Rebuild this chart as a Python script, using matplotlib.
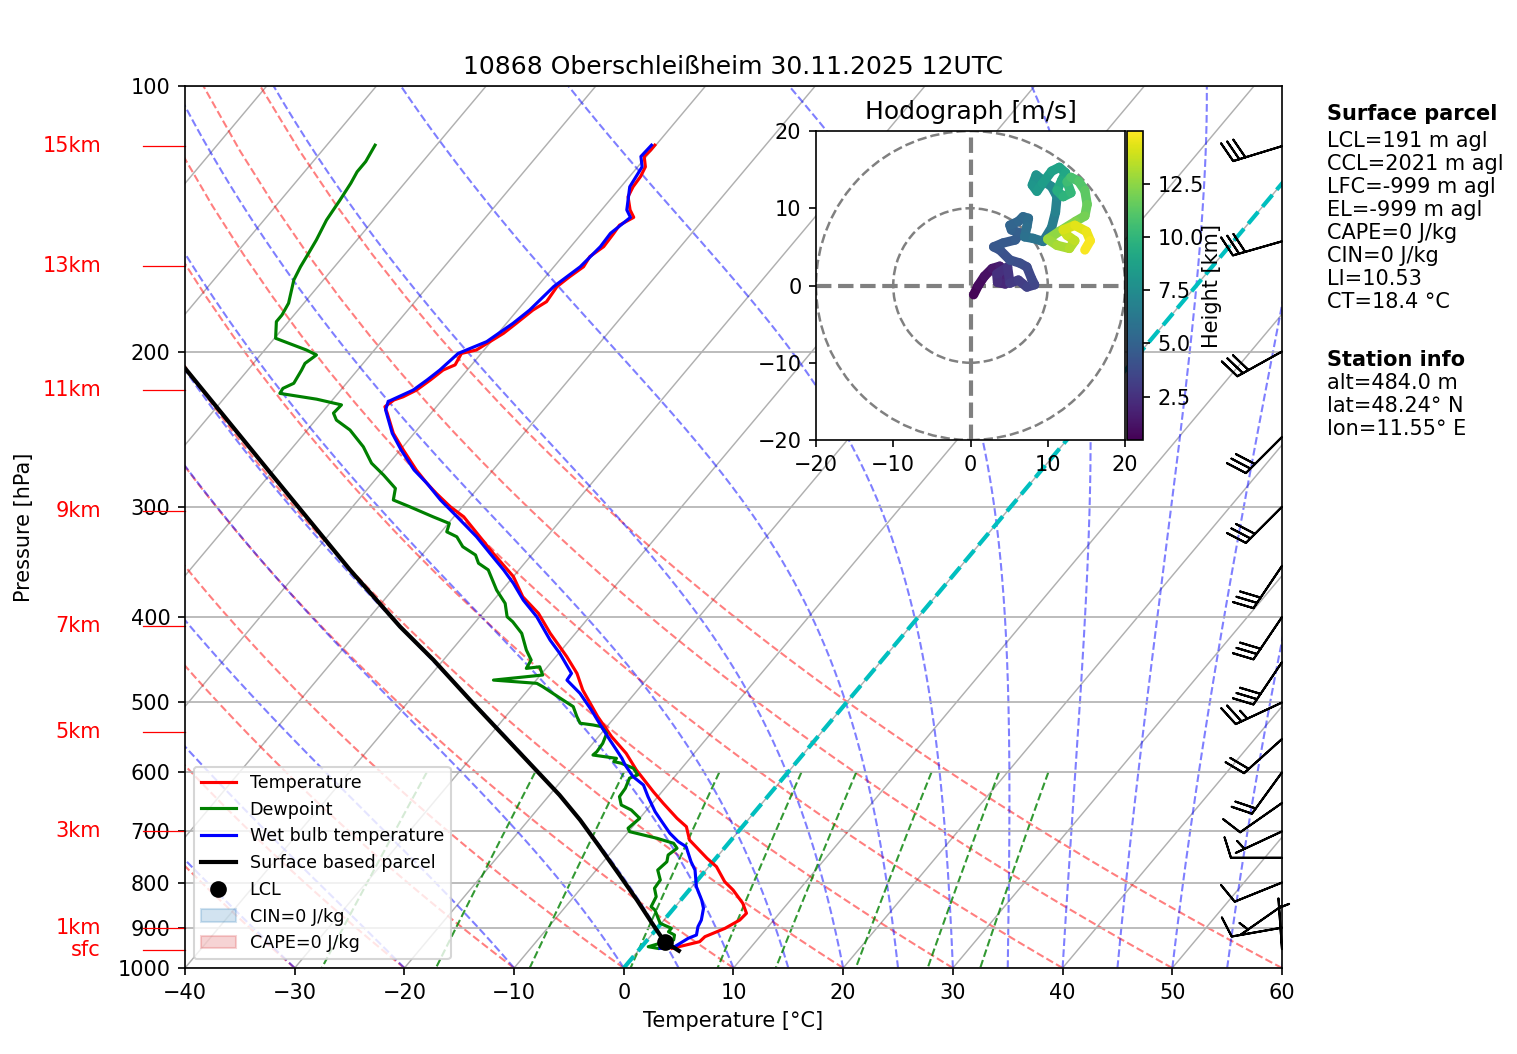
import numpy as np
import matplotlib
matplotlib.use('Agg')
import matplotlib.pyplot as plt
from matplotlib.transforms import Affine2D
from matplotlib.collections import LineCollection
from matplotlib.colors import Normalize
from matplotlib.patches import Circle, Patch
from matplotlib.lines import Line2D
from matplotlib.ticker import NullLocator

# ---- sounding (pressure hPa / temperature degC) ----
temp_p = [950, 933.6, 921.5, 901.5, 882.3, 866.9, 844.6, 815.8, 798.3, 767.6, 751.0, 715.9, 691.5, 676.5,
          650.5, 631.0, 596.3, 571.0, 546.7, 518.8, 484.0, 463.4, 443.7, 432.3, 417.4, 396.2, 379.4, 359.9,
          338.8, 324.4, 307.9, 299.9, 289.6, 282.2, 272.5, 258.7, 247.6, 234.9, 231.0, 227.0, 225.1, 221.2,
          215.4, 209.9, 207.1, 201.0, 199.2, 194.9, 190.7, 185.8, 179.5, 175.6, 168.8, 164.5, 160.3, 156.1,
          152.1, 146.9, 143.8, 140.9, 138.2, 133.5, 130.1, 126.7, 123.5, 120.2, 118.2, 116.7]
temp_T = [2.9, 4.9, 5.0, 6.2, 6.9, 7.0, 5.9, 4.0, 2.6, 0.7, -0.8, -3.8, -5.1, -6.6,
          -9.0, -10.8, -14.0, -16.2, -18.8, -21.6, -25.0, -26.8, -29.0, -30.4, -32.3, -34.9, -37.6, -40.0,
          -43.6, -46.1, -49.1, -51.1, -53.4, -55.0, -57.0, -59.7, -61.9, -64.0, -64.7, -64.4, -63.8, -63.1,
          -62.6, -62.2, -61.5, -61.8, -60.7, -60.1, -59.5, -59.1, -58.6, -58.0, -58.2, -57.8, -57.3, -57.5,
          -57.0, -57.1, -57.2, -56.5, -57.4, -58.6, -58.9, -59.0, -59.3, -60.2, -60.1, -60.1]

dew_p = [950, 946, 937.6, 929.5, 917.5, 909.7, 901.5, 889.9, 859.5, 852.1, 830.1, 812.1, 794.8, 774.3,
         757.7, 744.6, 731.6, 722.1, 712.7, 700.5, 694.3, 676.5, 662.0, 653.4, 639.3, 625.6, 609.2, 604.0,
         593.6, 585.9, 583.4, 578.5, 573.5, 568.6, 556.3, 541.9, 532.5, 530.2, 527.8, 518.8, 505.4, 494.6,
         479.8, 475.6, 471.6, 465.4, 455.5, 457.4, 447.5, 436.0, 417.4, 405.0, 399.7, 386.0, 372.8, 353.7,
         347.6, 340.2, 332.9, 324.4, 320.2, 313.3, 307.9, 299.9, 294.7, 285.9, 276.1, 267.7, 256.5, 245.5,
         239.2, 234.9, 229.9, 226.5, 223.1, 220.2, 217.3, 209.9, 206.3, 201.8, 199.2, 193.2, 185.0, 181.8,
         176.3, 165.9, 160.3, 154.7, 149.5, 141.9, 134.7, 128.9, 125.1, 121.8, 116.7]
dew_T = [1.6, 0.6, 1.4, 2.4, 2.1, 1.3, 1.3, -0.1, -1.6, -2.2, -2.5, -3.3, -3.4, -4.4,
         -4.2, -4.6, -4.3, -5.0, -6.9, -9.9, -10.3, -10.0, -11.4, -12.7, -13.5, -13.6, -14.0, -13.5,
         -14.4, -15.9, -16.7, -16.7, -19.1, -19.0, -19.1, -19.5, -20.5, -21.4, -22.7, -23.5, -24.6, -26.4,
         -28.9, -29.7, -33.9, -29.8, -30.7, -31.8, -32.0, -33.2, -34.9, -36.6, -37.5, -38.7, -40.5, -42.8,
         -44.2, -45.1, -46.9, -48.2, -49.5, -49.9, -51.9, -54.8, -56.8, -57.5, -59.6, -61.6, -63.6, -66.1,
         -68.1, -68.9, -68.8, -71.5, -75.3, -75.4, -74.8, -75.1, -75.3, -74.9, -76.2, -79.9, -81.1, -81.1,
         -81.4, -82.7, -83.1, -83.4, -83.7, -84.3, -84.6, -84.9, -85.2, -85.2, -85.6]

wb_p = [950, 946, 925.4, 917.5, 897.7, 882.3, 855.7, 837.4, 808.8, 774.3, 757.7, 728.5, 719.0, 703.5,
        685.3, 664.9, 639.3, 620.2, 606.7, 588.6, 578.5, 568.6, 551.5, 532.5, 509.8, 488.2, 471.6, 463.4,
        439.8, 424.8, 399.7, 382.7, 366.2, 353.7, 338.8, 324.4, 307.9, 294.7, 282.2, 272.5, 258.7, 247.6,
        232.9, 227.9, 221.2, 215.4, 209.9, 201.0, 194.9, 185.8, 179.5, 168.8, 160.3, 152.1, 146.9, 140.9,
        138.2, 130.1, 123.5, 120.2, 116.7]
wb_T = [1.8, 3.0, 3.6, 4.1, 3.6, 3.4, 2.7, 1.9, 0.4, -1.0, -2.0, -3.6, -4.7, -6.1,
        -7.5, -9.1, -10.9, -12.2, -13.8, -15.4, -16.2, -17.1, -18.7, -20.5, -22.7, -25.0, -27.2, -27.3,
        -29.9, -31.8, -34.8, -37.3, -39.5, -41.4, -43.9, -46.4, -49.7, -52.5, -55.0, -57.2, -59.9, -62.0,
        -64.4, -64.8, -63.4, -62.9, -62.5, -62.1, -60.4, -59.4, -58.9, -58.5, -57.6, -57.3, -57.4, -56.8,
        -57.7, -59.2, -59.6, -60.5, -60.4]

parcel_p = [956, 933.6, 893.9, 837.4, 784.5, 728.5, 679.5, 636.5, 496.8, 447.5, 410.2, 353.7, 274.0, 208.8]
parcel_T = [3.7, 1.7, -0.6, -4.0, -7.5, -11.5, -15.3, -19.1, -34.5, -40.9, -46.5, -55.4, -70.2, -85.9]
lcl_p, lcl_T = 933.6, 1.7

# wind barbs (knots)
barb_p = [952, 900, 850, 800, 750, 700, 650, 600, 550, 500, 450, 400, 350, 300, 250, 200, 150, 117]
barb_dir = [356, 260, 235, 248, 270, 245, 235, 216, 228, 245, 214, 214, 214, 225, 225, 241, 254, 253]
barb_spd = [5, 10, 5, 10, 10, 5, 10, 20, 20, 25, 30, 30, 30, 30, 30, 30, 30, 30]

# height markers on the left
height_lbl = ['15km', '13km', '11km', '9km', '7km', '5km', '3km', '1km', 'sfc']
height_p = [116.9, 160.0, 221.0, 303.0, 409.5, 540.0, 699.0, 901.0, 954.0]

# hodograph (m/s) and height (km)
hodo_u = [0.4, 1.0, 1.8, 2.8, 3.8, 4.6, 4.5, 3.5, 3.4, 4.8, 5.1, 6.2, 7.3, 8.3, 7.9, 7.3, 6.4, 5.1, 3.8, 3.0,
          4.2, 5.8, 6.4, 5.3, 5.1, 6.2, 6.8, 7.5, 7.3, 7.0, 8.1, 9.4, 10.5, 11.0, 11.2, 10.5, 9.5, 8.5, 8.0, 8.6,
          9.3, 10.5, 11.5, 12.3, 11.8, 11.2, 12.0, 13.0, 12.5, 13.0, 14.0, 14.8, 15.1, 14.8, 13.6, 11.5, 10.0,
          11.2, 12.8, 13.5, 12.5, 12.0, 13.5, 15.0, 15.5, 14.8]
hodo_v = [-1.2, 0.0, 1.2, 2.2, 2.5, 1.5, 0.2, 0.4, 1.5, 2.4, 0.3, 0.7, -0.2, 0.1, 0.9, 2.4, 2.9, 3.3, 4.6, 5.0,
          5.5, 5.9, 6.8, 7.2, 7.8, 8.3, 8.9, 8.7, 7.6, 6.3, 6.1, 5.7, 7.5, 9.5, 11.5, 12.8, 13.5, 14.3, 13.0, 12.2,
          13.2, 14.8, 15.3, 14.6, 13.6, 12.3, 11.5, 12.0, 13.4, 14.0, 13.5, 12.3, 10.5, 9.0, 8.3, 7.0, 6.0,
          5.2, 4.8, 5.8, 6.5, 7.2, 7.8, 7.0, 5.8, 4.6]
hodo_h = [0.5, 0.75, 1.0, 1.25, 1.5, 1.75, 2.0, 2.2, 2.4, 2.6, 2.8, 3.0, 3.2, 3.4, 3.55, 3.7, 3.85, 4.0, 4.15, 4.3,
          4.45, 4.6, 4.75, 4.9, 5.05, 5.2, 5.35, 5.5, 5.65, 5.8, 5.95, 6.1, 6.4, 6.7, 7.0, 7.3, 7.55, 7.8, 8.0, 8.2,
          8.4, 8.6, 8.8, 9.0, 9.2, 9.4, 9.7, 10.0, 10.3, 10.6, 10.9, 11.2, 11.5, 11.8, 12.1, 12.4, 12.7,
          12.95, 13.2, 13.45, 13.7, 13.95, 14.2, 14.45, 14.7, 14.98]

parcel_info = ['LCL=191 m agl', 'CCL=2021 m agl', 'LFC=-999 m agl', 'EL=-999 m agl',
               'CAPE=0 J/kg', 'CIN=0 J/kg', 'LI=10.53', 'CT=18.4 °C']
station_info = ['alt=484.0 m', 'lat=48.24° N', 'lon=11.55° E']

# ---- constants for background lines ----
RD, CP, LV, EPS = 287.04749, 1004.666, 2.50084e6, 0.6219569
ROT = 34


def moist_rate(p, t):
    es = 6.112 * np.exp(17.67 * (t - 273.15) / (t - 29.65))
    rs = EPS * es / (p - es)
    return (RD * t + LV * rs) / (CP + LV * LV * rs * EPS / (RD * t * t)) / p


def moist_adiabats(t0, p):
    out = np.empty((len(t0), len(p)))
    t = np.asarray(t0, float) + 273.15
    out[:, 0] = t
    for i in range(1, len(p)):
        h = p[i] - p[i - 1]
        k1 = moist_rate(p[i - 1], t)
        k2 = moist_rate(p[i - 1] + h / 2, t + h / 2 * k1)
        k3 = moist_rate(p[i - 1] + h / 2, t + h / 2 * k2)
        k4 = moist_rate(p[i], t + h * k3)
        t = t + h / 6 * (k1 + 2 * k2 + 2 * k3 + k4)
        out[:, i] = t
    return out - 273.15


fig = plt.figure(figsize=(1517 / 150, 1054 / 150), dpi=150)
ax = fig.add_axes([0.12195, 0.08159, 0.72314, 0.83681])
ax.set_yscale('log')
ax.set_xlim(-40, 60)
ax.set_ylim(1000, 100)
skew = ax.transScale + ax.transLimits + Affine2D().skew_deg(ROT, 0) + ax.transAxes

yt = list(range(100, 1001, 100))
ax.set_yticks(yt)
ax.set_yticklabels([str(v) for v in yt])
ax.yaxis.set_minor_locator(NullLocator())
ax.set_xticks(range(-40, 61, 10))
ax.yaxis.grid(True, color='#b0b0b0', lw=0.8)

# isotherms
for t in range(-130, 61, 10):
    ax.plot([t, t], [1000, 100], transform=skew, color='#b0b0b0', lw=0.7, zorder=1)

# dry adiabats
p_dry = np.linspace(1000, 100, 50)
for t0 in range(-40, 61, 10):
    td = (t0 + 273.15) * (p_dry / 1000.) ** (RD / CP) - 273.15
    ax.plot(td, p_dry, transform=skew, color='r', alpha=0.5, ls='--', lw=1, zorder=1)

# moist adiabats
p_moist = np.linspace(1000, 100, 181)
t0_moist = np.concatenate((np.arange(-40, 0, 10), np.arange(0, 61, 5)))
for tm in moist_adiabats(t0_moist, p_moist):
    ax.plot(tm, p_moist, transform=skew, color='b', alpha=0.5, ls='--', lw=1, zorder=1)

# mixing ratio lines
p_mix = np.linspace(600, 1000, 50)
for w in [0.0004, 0.001, 0.002, 0.004, 0.007, 0.01, 0.016, 0.024, 0.032]:
    e = p_mix * w / (EPS + w)
    lg = np.log(e / 6.112)
    tdw = 243.5 * lg / (17.67 - lg)
    ax.plot(tdw, p_mix, transform=skew, color='g', alpha=0.8, ls='--', lw=1, zorder=1)

# freezing level isotherm
ax.plot([0, 0], [1000, 100], transform=skew, color='c', ls='--', lw=2, zorder=2)

# profiles
ax.plot(temp_T, temp_p, color='r', lw=1.5, transform=skew, zorder=3)
ax.plot(dew_T, dew_p, color='g', lw=1.5, transform=skew, zorder=3)
ax.plot(wb_T, wb_p, color='b', lw=1.5, transform=skew, zorder=3)
ax.plot(parcel_T, parcel_p, color='k', lw=2, transform=skew, zorder=3)
ax.plot([lcl_T], [lcl_p], 'ko', ms=7, transform=skew, zorder=4)

# wind barbs at the right edge
wd = np.radians(barb_dir)
bu = -np.array(barb_spd) * np.sin(wd)
bv = -np.array(barb_spd) * np.cos(wd)
ax.barbs(np.ones(len(barb_p)), barb_p, bu, bv, transform=ax.get_yaxis_transform(),
         clip_on=False, zorder=4, length=7, lw=1.0)

# height markers
ytr = ax.get_yaxis_transform()
for lbl, p in zip(height_lbl, height_p):
    ax.plot([-0.038, 0], [p, p], transform=ytr, color='r', lw=0.6, clip_on=False)
    ax.text(-0.0766, p, lbl, transform=ytr, color='r', ha='right', va='center')

ax.set_xlabel('Temperature [°C]')
ax.set_ylabel('Pressure [hPa]')
ax.yaxis.set_label_coords(-0.138, 0.5)
ax.set_title('10868 Oberschleißheim 30.11.2025 12UTC')

handles = [Line2D([], [], color='r', lw=1.5, label='Temperature'),
           Line2D([], [], color='g', lw=1.5, label='Dewpoint'),
           Line2D([], [], color='b', lw=1.5, label='Wet bulb temperature'),
           Line2D([], [], color='k', lw=2, label='Surface based parcel'),
           Line2D([], [], color='k', marker='o', ms=7, ls='none', label='LCL'),
           Patch(color='tab:blue', alpha=0.2, label='CIN=0 J/kg'),
           Patch(color='tab:red', alpha=0.2, label='CAPE=0 J/kg')]
ax.legend(handles=handles, loc='lower left', fontsize=8.4)

# hodograph
axh = fig.add_axes([0.5379, 0.58254, 0.2037, 0.29317])
axh.set_xlim(-20, 20)
axh.set_ylim(-20, 20)
axh.set_xticks([-20, -10, 0, 10, 20])
axh.set_yticks([-20, -10, 0, 10, 20])
for r in (10, 20):
    axh.add_patch(Circle((0, 0), r, fill=False, color='grey', ls='--', lw=1.2))
axh.axhline(0, color='grey', ls='--', lw=2)
axh.axvline(0, color='grey', ls='--', lw=2)
pts = np.array([hodo_u, hodo_v]).T.reshape(-1, 1, 2)
segs = np.concatenate([pts[:-1], pts[1:]], axis=1)
hh = np.array(hodo_h)
lc = LineCollection(segs, cmap='viridis', norm=Normalize(0.46, 14.98), lw=4.5, capstyle='round')
lc.set_array((hh[:-1] + hh[1:]) / 2)
axh.add_collection(lc)
axh.set_title('Hodograph [m/s]')
cax = fig.add_axes([0.7429, 0.58254, 0.01055, 0.29317])
cb = fig.colorbar(lc, cax=cax, ticks=[2.5, 5.0, 7.5, 10.0, 12.5])
cb.set_label('Height [km]', labelpad=-1)

# text block on the right
x0 = 1327 / 1517
fig.text(x0, 1 - 114 / 1054, 'Surface parcel', fontweight='bold', va='center')
for i, s in enumerate(parcel_info):
    fig.text(x0, 1 - (141 + 23 * i) / 1054, s, va='center')
fig.text(x0, 1 - 360 / 1054, 'Station info', fontweight='bold', va='center')
for i, s in enumerate(station_info):
    fig.text(x0, 1 - (383 + 23 * i) / 1054, s, va='center')

fig.savefig('out.png', dpi=150)
